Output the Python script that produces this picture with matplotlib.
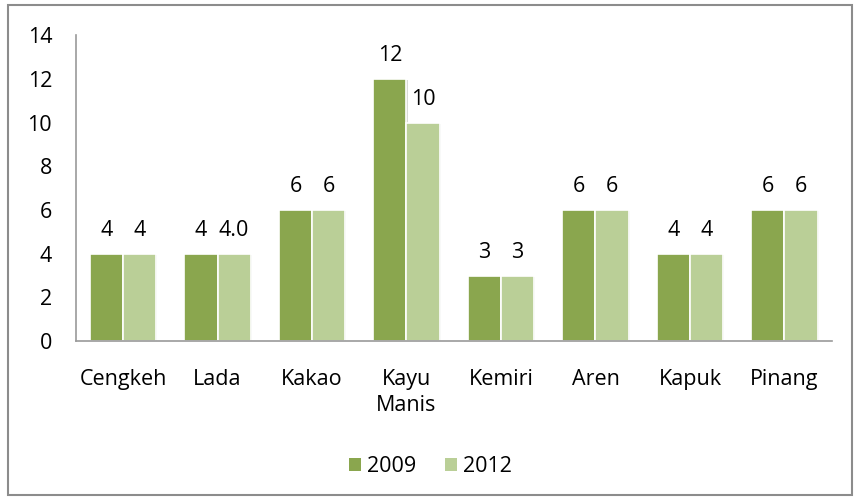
import matplotlib.pyplot as plt
import matplotlib.patheffects as pe
from matplotlib.patches import Rectangle, Patch
import numpy as np

# data
categories = ['Cengkeh', 'Lada', 'Kakao', 'Kayu\nManis', 'Kemiri', 'Aren', 'Kapuk', 'Pinang']
vals_2009 = [4, 4, 6, 12, 3, 6, 4, 6]
vals_2012 = [4, 4, 6, 10, 3, 6, 4, 6]
labels_2009 = ['4', '4', '6', '12', '3', '6', '4', '6']
labels_2012 = ['4', '4.0', '6', '10', '3', '6', '4', '6']
yticks = [0, 2, 4, 6, 8, 10, 12, 14]

dark = '#8AA64E'
light = '#BACF97'
fs = 15.5

plt.rcParams['font.family'] = ['Open Sans', 'DejaVu Sans']

fig = plt.figure(figsize=(8.61, 5.01), dpi=100)
ax = fig.add_axes([0.088, 0.319, 0.878, 0.611])

x = np.arange(len(categories))
w = 0.35
shadow = [pe.SimplePatchShadow(offset=(1.0, -1.0), alpha=0.18), pe.Normal()]
b1 = ax.bar(x - w / 2, vals_2009, w, color=dark, edgecolor='white', linewidth=1.2,
            path_effects=shadow)
b2 = ax.bar(x + w / 2, vals_2012, w, color=light, edgecolor='white', linewidth=1.2,
            path_effects=shadow)

for rect, lab in zip(b1, labels_2009):
    ax.annotate(lab, (rect.get_x() + rect.get_width() / 2, rect.get_height()),
                xytext=(0, 9), textcoords='offset points', ha='center', va='bottom', fontsize=fs)
for rect, lab in zip(b2, labels_2012):
    ax.annotate(lab, (rect.get_x() + rect.get_width() / 2, rect.get_height()),
                xytext=(0, 9), textcoords='offset points', ha='center', va='bottom', fontsize=fs)

ax.set_xlim(-0.5, len(categories) - 0.5)
ax.set_ylim(0, 14)
ax.set_yticks(yticks)
ax.set_xticks(x)
ax.set_xticklabels(categories, fontsize=fs, linespacing=1.3, va='top')
ax.tick_params(axis='y', length=0, pad=17, labelsize=fs)
ax.tick_params(axis='x', length=0, pad=20)

for s in ['top', 'right']:
    ax.spines[s].set_visible(False)
for s in ['left', 'bottom']:
    ax.spines[s].set_color('#9A9A9A')
    ax.spines[s].set_linewidth(1.2)

handles = [Patch(facecolor=dark, edgecolor='none'), Patch(facecolor=light, edgecolor='none')]
fig.legend(handles=handles, labels=['2009', '2012'], loc='center', bbox_to_anchor=(0.5, 0.068),
           ncol=2, frameon=False, fontsize=fs, handlelength=0.55, handleheight=0.55,
           handletextpad=0.3, columnspacing=1.3)

fig.patches.append(Rectangle((0.009, 0.012), 0.98, 0.978, transform=fig.transFigure,
                             fill=False, edgecolor='#8C8C8C', linewidth=1.5))

fig.savefig('out.png', dpi=100)
